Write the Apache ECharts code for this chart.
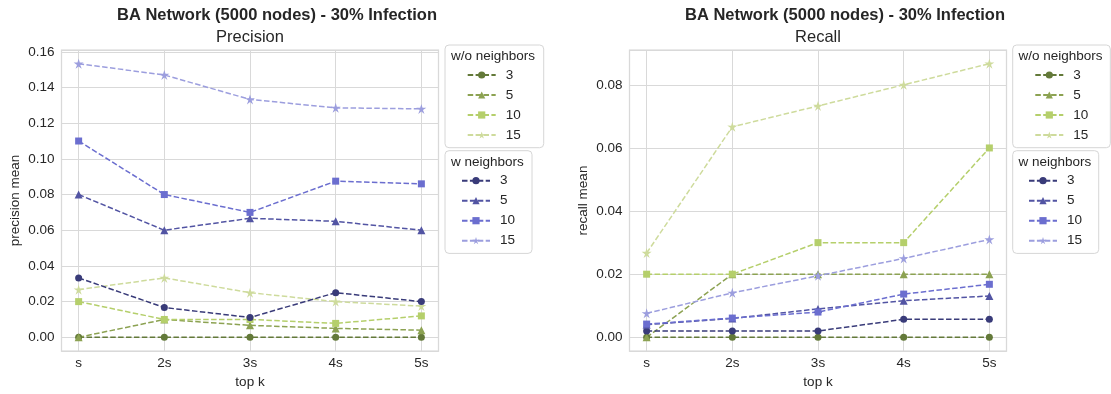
<!DOCTYPE html>
<html>
<head>
<meta charset="utf-8">
<script src="https://cdn.jsdelivr.net/npm/echarts@6/dist/echarts.min.js"></script>
<style>
html,body{margin:0;padding:0;background:#fff;}
#chart{width:1111px;height:394px;}
</style>
</head>
<body>
<div id="chart"></div>
<script>
// ---- data ----
const categories = ['s', '2s', '3s', '4s', '5s'];
const groupSizes = ['3', '5', '10', '15'];

const precWo3  = [0, 0, 0, 0, 0];
const precWo5  = [0, 0.01, 0.0067, 0.005, 0.004];
const precWo10 = [0.02, 0.01, 0.01, 0.0078, 0.012];
const precWo15 = [0.0267, 0.0333, 0.025, 0.02, 0.0175];
const precW3   = [0.0333, 0.0167, 0.0111, 0.025, 0.02];
const precW5   = [0.08, 0.06, 0.0667, 0.065, 0.06];
const precW10  = [0.11, 0.08, 0.07, 0.0875, 0.086];
const precW15  = [0.1533, 0.147, 0.1333, 0.1286, 0.128];

const recWo3  = [0, 0, 0, 0, 0];
const recWo5  = [0, 0.02, 0.02, 0.02, 0.02];
const recWo10 = [0.02, 0.02, 0.03, 0.03, 0.06];
const recWo15 = [0.0267, 0.0667, 0.0733, 0.08, 0.0867];
const recW3   = [0.002, 0.002, 0.002, 0.0057, 0.0057];
const recW5   = [0.004, 0.006, 0.009, 0.0116, 0.0131];
const recW10  = [0.0042, 0.0061, 0.008, 0.0137, 0.0168];
const recW15  = [0.0076, 0.0141, 0.0195, 0.025, 0.031];

const mainTitle = 'BA Network (5000 nodes) - 30% Infection';
const subTitles = ['Precision', 'Recall'];
const yNames = ['precision mean', 'recall mean'];
const xName = 'top k';
const legendTitles = ['w/o neighbors', 'w neighbors'];

// ---- styles ----
const colorsWo = ['#637939', '#8ca252', '#b5cf6b', '#cedb9c'];
const colorsW  = ['#393b79', '#5254a3', '#6b6ecf', '#9c9ede'];
const STAR = 'path://M100 0 L122.4 69.2 L195.1 69.1 L130.8 111.8 L158.8 180.9 L100 138.1 L41.2 180.9 L69.2 111.8 L4.9 69.1 L77.6 69.2 Z';
const symbols = ['circle', 'triangle', 'rect', STAR];
const symSizes = [7, 8, 7, 10];
const FONT = "'Liberation Sans', Arial, Helvetica, sans-serif";
const TXT = '#262626';
const GRIDC = '#d9d9d9';

const chart = echarts.init(document.getElementById('chart'), null, {renderer: 'canvas'});

const gridW = 377, gridTop = 50, gridH = 301;
const gridLefts = [61.5, 629.5];

function mkSeries(prefix, grp, idx, data, color, axisIdx) {
  return {
    type: 'line',
    name: prefix + '|' + grp + '|' + groupSizes[idx],
    xAxisIndex: axisIdx, yAxisIndex: axisIdx,
    data: data.map((v, i) => [i, v]),
    symbol: symbols[idx],
    symbolSize: symSizes[idx],
    lineStyle: {type: [5.5, 2.4], width: 1.5, color: color},
    itemStyle: {color: color},
    emphasis: {disabled: true},
    animation: false,
    z: 2
  };
}

const precWo = [precWo3, precWo5, precWo10, precWo15];
const precW = [precW3, precW5, precW10, precW15];
const recWo = [recWo3, recWo5, recWo10, recWo15];
const recW = [recW3, recW5, recW10, recW15];

const series = [];
[['P', precWo, precW, 0], ['R', recWo, recW, 1]].forEach(([p, wo, w, ai]) => {
  wo.forEach((d, i) => series.push(mkSeries(p, 'wo', i, d, colorsWo[i], ai)));
  w.forEach((d, i) => series.push(mkSeries(p, 'w', i, d, colorsW[i], ai)));
});

function xAxisCfg(gi) {
  return {
    type: 'value', gridIndex: gi, min: -0.2, max: 4.2, splitNumber: 4,
    axisLine: {show: false}, axisTick: {show: false},
    splitLine: {show: true, lineStyle: {color: GRIDC, width: 1}},
    axisLabel: {
      margin: 5, color: TXT, fontSize: 13.5, fontFamily: FONT,
      formatter: v => (Math.abs(v - Math.round(v)) < 1e-6 && v >= 0 && v <= 4) ? categories[Math.round(v)] : ''
    },
    name: xName, nameLocation: 'middle', nameGap: 22,
    nameTextStyle: {color: TXT, fontSize: 13.5, fontFamily: FONT}
  };
}
function yAxisCfg(gi, min, max, split) {
  return {
    type: 'value', gridIndex: gi, min: min, max: max, splitNumber: split,
    axisLine: {show: false}, axisTick: {show: false},
    splitLine: {show: true, lineStyle: {color: GRIDC, width: 1}},
    axisLabel: {
      margin: 7, color: TXT, fontSize: 13.5, fontFamily: FONT,
      formatter: v => (Math.abs(v / 0.02 - Math.round(v / 0.02)) < 1e-6) ? v.toFixed(2) : ''
    },
    name: yNames[gi], nameLocation: 'middle', nameGap: 39,
    nameTextStyle: {color: TXT, fontSize: 13.5, fontFamily: FONT}
  };
}

function legendCfg(left, top, prefix, grp, padL, padR) {
  return {
    show: true, orient: 'vertical', left: left, top: top,
    data: groupSizes.map(s => prefix + '|' + grp + '|' + s),
    formatter: n => n.split('|')[2],
    itemWidth: 28, itemHeight: 9, itemGap: 0,
    padding: [20, padR, 2.7, padL],
    textStyle: {color: TXT, fontSize: 13.5, fontFamily: FONT, lineHeight: 20, padding: [0, 0, 0, 5]},
    borderColor: '#d6d6d6', borderWidth: 1, borderRadius: 4,
    backgroundColor: 'rgba(255,255,255,0.8)',
    selectedMode: false
  };
}

function txt(x, y, text, size, weight, align) {
  return {
    type: 'text', x: x, y: y, silent: true, z: 10,
    style: {text: text, fontSize: size, fontFamily: FONT, fontWeight: weight,
      fill: TXT, align: align || 'center', verticalAlign: 'middle'}
  };
}

const graphics = [];
gridLefts.forEach((gl, i) => {
  const cx = gl + gridW / 2;
  graphics.push(txt(cx + 27, 15.5, mainTitle, 16.5, 'bold'));
  graphics.push(txt(cx, 37.5, subTitles[i], 16.5, 'normal'));
});
[451, 1018.5].forEach(lx => {
  graphics.push(txt(lx, 56, legendTitles[0], 13.5, 'normal', 'left'));
  graphics.push(txt(lx, 162, legendTitles[1], 13.5, 'normal', 'left'));
});

chart.setOption({
  backgroundColor: '#ffffff',
  animation: false,
  grid: gridLefts.map(gl => ({
    left: gl, top: gridTop, width: gridW, height: gridH,
    show: true, borderColor: '#d4d4d4', borderWidth: 1.25, backgroundColor: '#ffffff'
  })),
  xAxis: [xAxisCfg(0), xAxisCfg(1)],
  yAxis: [yAxisCfg(0, -0.00767, 0.161, 8), yAxisCfg(1, -0.004335, 0.091035, 5)],
  legend: [
    legendCfg(445, 45, 'P', 'wo', 21.7, 23),
    legendCfg(445, 150.7, 'P', 'w', 16, 17),
    legendCfg(1012.7, 45, 'R', 'wo', 21.6, 22),
    legendCfg(1012.7, 150.7, 'R', 'w', 15.3, 16.7)
  ],
  graphic: {elements: graphics},
  series: series
});
</script>
</body>
</html>
